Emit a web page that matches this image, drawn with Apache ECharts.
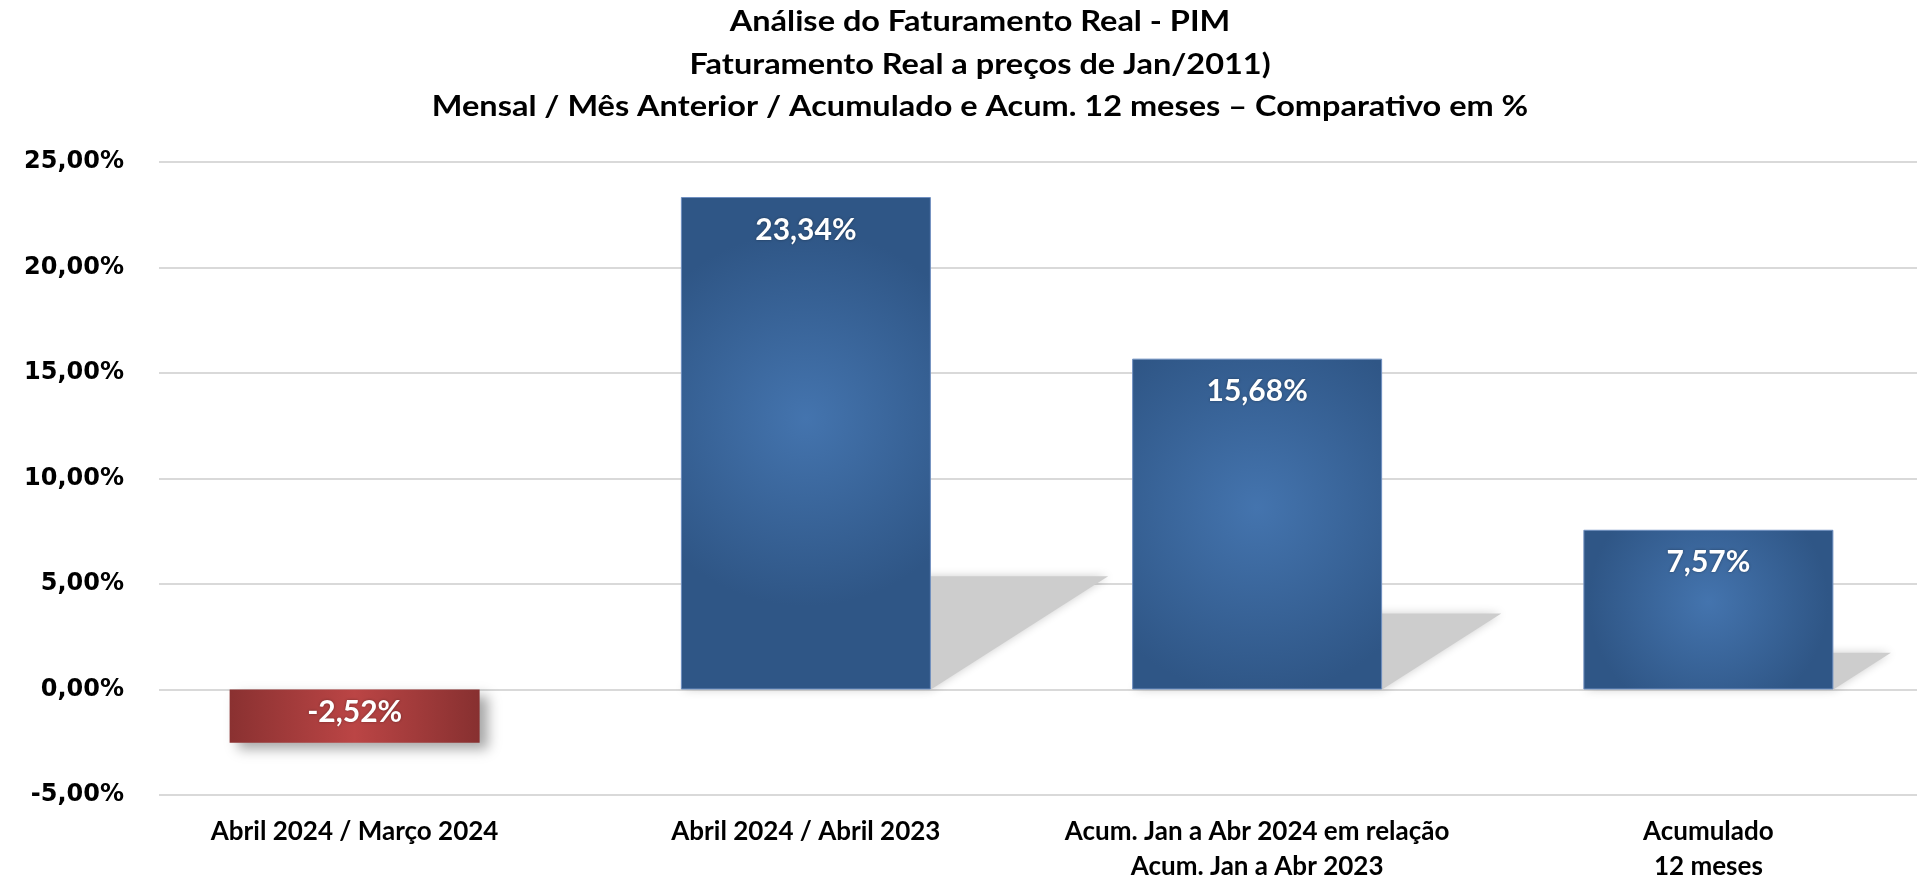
<!DOCTYPE html>
<html>
<head>
<meta charset="utf-8">
<script src="https://cdn.jsdelivr.net/npm/echarts@6/dist/echarts.min.js"></script>
<style>
html,body{margin:0;padding:0;background:#fff;}
#chart{width:1921px;height:880px;}
</style>
</head>
<body>
<div id="chart"></div>
<script>
const titleLines = [
  'Análise do Faturamento Real - PIM',
  'Faturamento Real a preços de Jan/2011)',
  'Mensal / Mês Anterior / Acumulado e Acum. 12 meses – Comparativo em %'
];
const categories = [
  'Abril 2024 / Março 2024',
  'Abril 2024 / Abril 2023',
  'Acum. Jan a Abr 2024 em relação\nAcum. Jan a Abr 2023',
  'Acumulado\n12 meses'
];
const values = [-2.52, 23.34, 15.68, 7.57];
const yMin = -5, yMax = 25, yStep = 5;

const fmt = v => v.toFixed(2).replace('.', ',') + '%';
const BAR_W = 250;

const blueFill = {
  type: 'radial', x: 0.5, y: 0.45, r: 0.75,
  colorStops: [{offset: 0, color: '#4474ae'}, {offset: 1, color: '#2f5686'}]
};
const redFill = {
  type: 'linear', x: 0, y: 0, x2: 1, y2: 0,
  colorStops: [{offset: 0, color: '#8a3131'}, {offset: 0.5, color: '#bb4545'}, {offset: 1, color: '#873030'}]
};

const chart = echarts.init(document.getElementById('chart'));
chart.setOption({
  animation: false,
  backgroundColor: '#ffffff',
  graphic: titleLines.map((t, i) => ({
    type: 'text', x: 980, y: 22 + i * 42.5, scaleX: 1.12,
    style: {
      text: t, align: 'center', verticalAlign: 'middle',
      font: 'bold 29px Lato', fill: '#000'
    }
  })),
  grid: [
    {left: 159, right: 4, top: 162, bottom: 85, outerBoundsMode: 'none', containLabel: false},
    {left: 129, right: -13, top: 162, bottom: 85, outerBoundsMode: 'none', containLabel: false}
  ],
  xAxis: [
    {gridIndex: 0, type: 'category', data: categories, show: false},
    {
      gridIndex: 1, type: 'category', data: categories,
      axisLine: {show: false}, axisTick: {show: false},
      axisLabel: {
        interval: 0, margin: 19, color: '#000',
        fontFamily: 'Lato', fontWeight: 'bold', fontSize: 26, lineHeight: 35
      }
    }
  ],
  yAxis: [
    {
      gridIndex: 0, type: 'value', min: yMin, max: yMax, interval: yStep,
      axisLine: {show: false}, axisTick: {show: false},
      axisLabel: {
        margin: 35, color: '#000', fontFamily: 'DejaVu Sans', fontWeight: 'bold', fontSize: 24,
        formatter: v => fmt(v)
      },
      splitLine: {lineStyle: {color: '#d9d9d9', width: 2}}
    },
    {
      gridIndex: 1, type: 'value', min: yMin, max: yMax, interval: yStep,
      show: false, splitLine: {show: false}
    }
  ],
  series: [
    {
      type: 'custom', xAxisIndex: 1, yAxisIndex: 1, z: 1,
      data: values.map((v, i) => [i, v]),
      renderItem: function (params, api) {
        const i = api.value(0), v = api.value(1);
        if (v <= 0) return null;
        const base = api.coord([i, 0]);
        const top = api.coord([i, v]);
        const h = base[1] - top[1];
        const L = base[0] - BAR_W / 2, R = base[0] + BAR_W / 2;
        const dx = 0.36 * h, dy = 0.23 * h;
        return {
          type: 'polygon',
          shape: {points: [[L, base[1]], [R, base[1]], [R + dx, base[1] - dy], [L + dx, base[1] - dy]]},
          style: {fill: '#cdcdcd', shadowBlur: 10, shadowColor: 'rgba(0,0,0,0.2)'}
        };
      }
    },
    {
      type: 'bar', xAxisIndex: 1, yAxisIndex: 1, z: 3,
      barWidth: BAR_W,
      data: values.map(v => ({
        value: v,
        label: {distance: v < 0 ? 8 : 18},
        itemStyle: v < 0 ? {
          color: redFill, shadowColor: 'rgba(0,0,0,0.35)', shadowBlur: 12, shadowOffsetX: 8, shadowOffsetY: 6
        } : {color: blueFill, borderColor: '#6f8fc0', borderWidth: 1}
      })),
      label: {
        show: true, position: 'insideTop', distance: 18,
        color: '#fff', fontFamily: 'Lato', fontWeight: 'bold', fontSize: 30,
        textShadowColor: 'rgba(0,0,0,0.35)', textShadowBlur: 3,
        formatter: p => fmt(p.value)
      }
    }
  ]
});
</script>
</body>
</html>
